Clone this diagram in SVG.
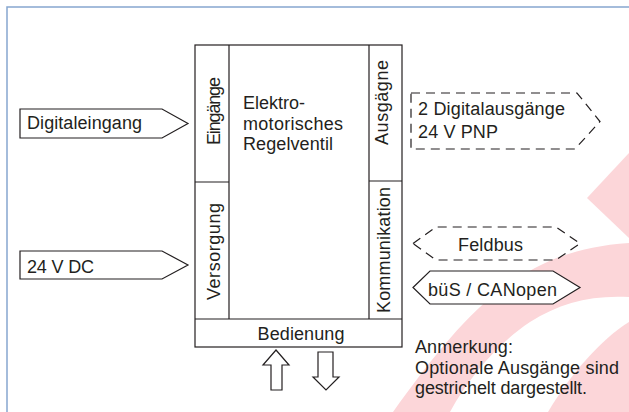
<svg xmlns="http://www.w3.org/2000/svg" width="629" height="412" viewBox="0 0 629 412">
<style>
.t{font-family:"Liberation Sans",Arial,sans-serif;font-size:18px;fill:#231f20}
.box{fill:none;stroke:#231f20;stroke-width:1.2}
.wbox{fill:#fff;stroke:#231f20;stroke-width:1.2}
.dash{fill:none;stroke:#231f20;stroke-width:1.2;stroke-dasharray:9 6}
.wm{fill:#fcd6d9}
</style>
<rect width="629" height="412" fill="#fff"/>
<g id="watermark">
<polygon class="wm" points="587,198 629,153 629,238"/>
<path class="wm" d="M393,412 C430,360 470,310 505,287 C535,265 570,247 629,243 L629,297 C590,295 560,303 530,322 C500,342 470,375 450,412 Z"/>
<path class="wm" d="M629,322 C600,340 570,375 548,412 L629,412 Z"/>
</g>
<path d="M7,412 V7 H629" fill="none" stroke="#86a7d0" stroke-width="1.5"/>
<g id="ventil">
<rect class="box" x="195" y="45" width="207" height="302"/>
<path class="box" d="M229,45 V319 M369,45 V319 M195,319 H402 M195,182 H229 M369,181 H402"/>
<text class="t" x="243" y="109" textLength="62">Elektro-</text>
<text class="t" x="243" y="130" textLength="100">motorisches</text>
<text class="t" x="243" y="150" textLength="90">Regelventil</text>
</g>
<g id="eingaenge"><text class="t" transform="translate(219.5,111) rotate(-90)" text-anchor="middle" textLength="68">Eingänge</text></g>
<g id="ausgaenge"><text class="t" transform="translate(388,102.5) rotate(-90)" text-anchor="middle" textLength="85">Ausgägne</text></g>
<g id="versorgung"><text class="t" transform="translate(219.5,251.5) rotate(-90)" text-anchor="middle" textLength="97">Versorgung</text></g>
<g id="kommunikation"><text class="t" transform="translate(389.5,250) rotate(-90)" text-anchor="middle" textLength="126">Kommunikation</text></g>
<g id="bedienung"><text class="t" x="301" y="340" text-anchor="middle" textLength="87">Bedienung</text></g>
<g id="digitaleingang">
<polygon class="wbox" points="20,109 162,109 188,123.5 162,138 20,138"/>
<text class="t" x="27" y="128.5" textLength="115">Digitaleingang</text>
</g>
<g id="dc24">
<polygon class="wbox" points="20,251 162,251 188,265 162,279 20,279"/>
<text class="t" x="27" y="273" textLength="67">24 V DC</text>
</g>
<g id="digitalausgaenge">
<polygon class="dash" points="411,93 577,93 600,121.5 575,149 411,149"/>
<text class="t" x="418" y="115" textLength="147">2 Digitalausgänge</text>
<text class="t" x="418" y="138" textLength="80">24 V PNP</text>
</g>
<g id="feldbus">
<polygon class="dash" points="413,243.5 436,227 556,227 580,243.5 556,260 436,260"/>
<text class="t" x="490.5" y="251" text-anchor="middle" textLength="65">Feldbus</text>
</g>
<g id="canopen">
<polygon class="wbox" points="413,287.5 430,271 553,271 580,287.5 553,304 430,304" fill="none"/>
<text class="t" x="428" y="296" textLength="129">büS / CANopen</text>
</g>
<g id="anmerkung">
<text class="t" x="415" y="353" textLength="98">Anmerkung:</text>
<text class="t" x="415" y="373.5" textLength="204">Optionale Ausgänge sind</text>
<text class="t" x="415" y="394" textLength="172">gestrichelt dargestellt.</text>
</g>
<g id="connectors">
<polygon class="wbox" points="276,350 289,365 282,365 282,390 271,390 271,365 263,365"/>
<polygon class="wbox" points="318,352 333,352 333,377 339,377 326,390 313,377 318,377"/>
</g>
</svg>
